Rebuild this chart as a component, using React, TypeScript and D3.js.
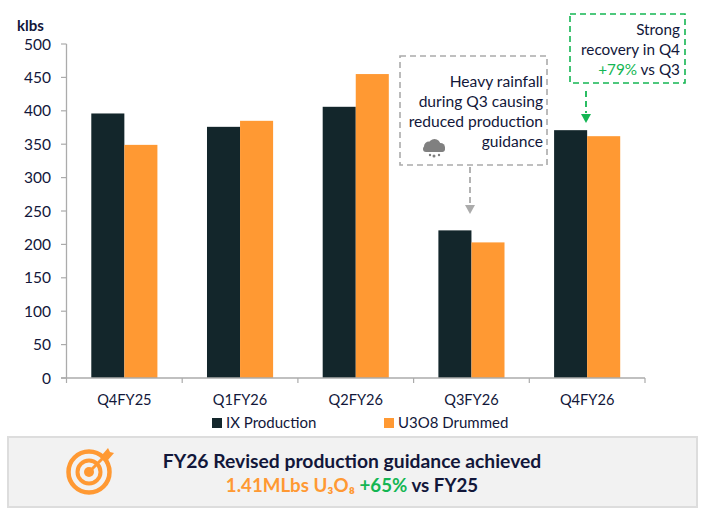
import React from "react";
import * as d3 from "d3";

const categories = ["Q4FY25", "Q1FY26", "Q2FY26", "Q3FY26", "Q4FY26"];
const ixProduction = [396, 376, 406, 221, 371];
const u3o8Drummed = [349, 385, 455, 203, 362];
const yTicks = [0, 50, 100, 150, 200, 250, 300, 350, 400, 450, 500];
const rainLines = ["Heavy rainfall", "during Q3 causing", "reduced production", "guidance"];
const legendItems = ["IX Production", "U3O8 Drummed"];

const W = 705, H = 511;
const DARK = "#13262B", ORANGE = "#FF9933", GREEN = "#14B653", GREY = "#ABABAB", TEXT = "#12173A";
const FONT = "Lato, 'Open Sans', sans-serif";

export default function App() {
  const x = d3.scaleBand<string>().domain(categories).range([66.5, 645]).padding(0);
  const y = d3.scaleLinear().domain([0, 500]).range([378, 44]);
  const inner = d3.scaleBand<string>().domain(["a", "b"]).range([0, x.bandwidth()]).paddingInner(0).paddingOuter(0.75);
  const series = [
    { key: "a", values: ixProduction, color: DARK },
    { key: "b", values: u3o8Drummed, color: ORANGE },
  ];
  const edges = [...categories.map((c) => x(c)!), 645];
  return (
    <svg width={W} height={H} viewBox={`0 0 ${W} ${H}`} style={{ position: "absolute", left: 0, top: 0, background: "#fff" }} fontFamily={FONT}>
      <text x={17} y={30.5} fontSize={15} fontWeight={700} fill={TEXT}>klbs</text>
      {series.map((s) =>
        s.values.map((v, i) => (
          <rect key={s.key + i} x={x(categories[i])! + inner(s.key)!} y={y(v)} width={inner.bandwidth()} height={y(0) - y(v)} fill={s.color} />
        ))
      )}
      <line x1={66.5} x2={66.5} y1={44} y2={378} stroke={GREY} strokeWidth={1.3} />
      <line x1={61} x2={645} y1={378} y2={378} stroke={GREY} strokeWidth={1.3} />
      {yTicks.map((t) => (
        <g key={t}>
          <line x1={61} x2={66.5} y1={y(t)} y2={y(t)} stroke={GREY} strokeWidth={1.2} />
          <text x={51} y={y(t) + 5.5} textAnchor="end" fontSize={15.5} fill={TEXT}>{t}</text>
        </g>
      ))}
      {edges.map((e) => <line key={e} x1={e} x2={e} y1={378} y2={383} stroke={GREY} strokeWidth={1.2} />)}
      {categories.map((c) => (
        <text key={c} x={x(c)! + x.bandwidth() / 2} y={404.5} textAnchor="middle" fontSize={14.6} fill={TEXT}>{c}</text>
      ))}
      <rect x={212} y={418} width={10} height={10} fill={DARK} />
      <text x={226} y={428} fontSize={15} fill={TEXT}>{legendItems[0]}</text>
      <rect x={384} y={418} width={10} height={10} fill={ORANGE} />
      <text x={398} y={428} fontSize={15} fill={TEXT}>{legendItems[1]}</text>

      <rect x={400} y={56} width={147} height={109} fill="#fff" stroke={GREY} strokeWidth={1.6} strokeDasharray="6 4" />
      {rainLines.map((l, i) => (
        <text key={l} x={543} y={86.5 + i * 20} textAnchor="end" fontSize={15.6} fill={TEXT}>{l}</text>
      ))}
      <g fill="#808080">
        <circle cx={429} cy={146.5} r={5} />
        <circle cx={434.5} cy={145} r={6} />
        <circle cx={440.5} cy={147.5} r={4.5} />
        <rect x={423} y={146} width={22} height={6} rx={3} />
        <circle cx={430} cy={155} r={1.2} /><circle cx={434} cy={156} r={1.5} /><circle cx={439} cy={155} r={1.2} />
      </g>
      <line x1={470} x2={470} y1={167} y2={205} stroke={GREY} strokeWidth={1.8} strokeDasharray="6 4" />
      <path d="M465 205 L475 205 L470 214 Z" fill={GREY} />

      <rect x={570} y={14} width={115} height={69} fill="#fff" stroke={GREEN} strokeWidth={1.6} strokeDasharray="6 4" />
      <g fontSize={15.3} fill={TEXT} textAnchor="end">
        <text x={680} y={34.5}>Strong</text>
        <text x={680} y={54.5}>recovery in Q4</text>
        <text x={680} y={74.5}><tspan fill={GREEN}>+79%</tspan> vs Q3</text>
      </g>
      <line x1={586} x2={586} y1={91} y2={113} stroke={GREEN} strokeWidth={1.8} strokeDasharray="6 4" />
      <path d="M581 114 L591 114 L586 123 Z" fill={GREEN} />

      <rect x={8} y={437} width={689} height={70} fill="#F2F2F2" stroke="#DDDDDD" strokeWidth={2} />
      <g stroke={ORANGE} fill="none">
        <circle cx={89} cy={472} r={20.5} strokeWidth={4.5} />
        <circle cx={89} cy={472} r={11.5} strokeWidth={4} />
        <circle cx={89} cy={472} r={5} fill={ORANGE} stroke="none" />
        <line x1={90} y1={471} x2={107} y2={454} strokeWidth={3} />
      </g>
      <path d="M102 455 L108 448 L110 452 L114 453 L108 460 L104 459 Z" fill={ORANGE} />
      <text x={352} y={467.5} textAnchor="middle" fontSize={19.3} fontWeight={700} fill={TEXT}>FY26 Revised production guidance achieved</text>
      <text x={352} y={492} textAnchor="middle" fontSize={18.7} fontWeight={700} fill={TEXT}>
        <tspan fill={ORANGE}>1.41MLbs U₃O₈ </tspan><tspan fill={GREEN}>+65%</tspan> vs FY25
      </text>
    </svg>
  );
}
